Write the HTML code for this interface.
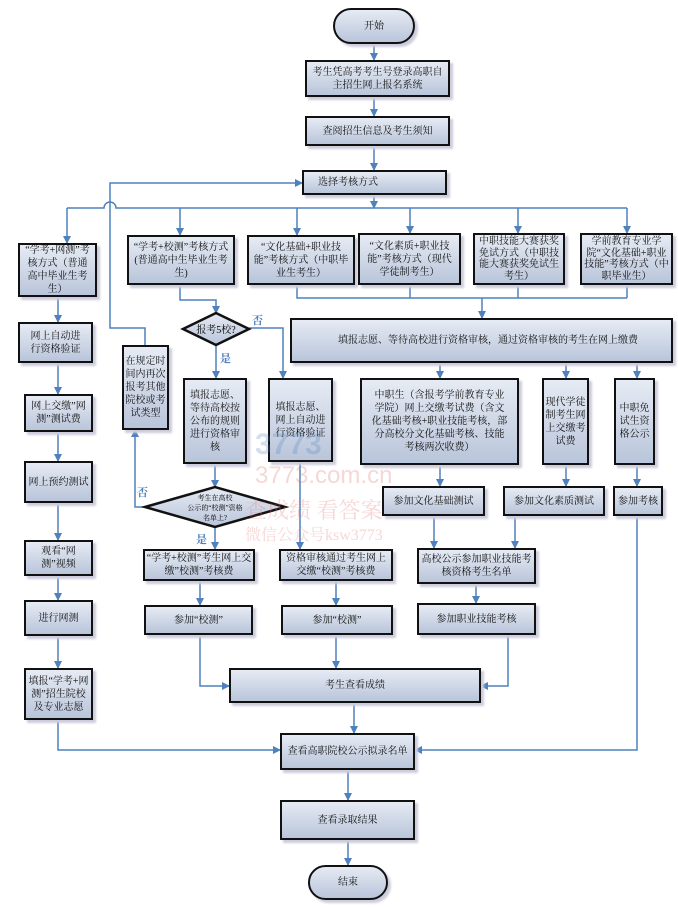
<!DOCTYPE html>
<html><head><meta charset="utf-8">
<style>
body{margin:0;background:#fff;}
#c{position:relative;width:678px;height:907px;overflow:hidden;font-family:"Liberation Serif","Noto Serif CJK SC",serif;}
.b{position:absolute;box-sizing:border-box;border:2.5px solid #111;background:linear-gradient(#e6ebf4,#b9c5da);box-shadow:3px 3px 2px #ccd;display:flex;align-items:center;justify-content:center;text-align:center;font-size:10px;line-height:13px;color:#111;padding:0 1px;}
.p{border-radius:18px;}
svg{position:absolute;left:0;top:0;}
.lb{position:absolute;font-size:11px;color:#4f81bd;font-weight:bold;}
.wm{position:absolute;color:rgba(230,120,120,0.3);font-size:22px;}
</style></head><body><div id="c">
<svg width="678" height="907">
<defs>
<marker id="a" markerWidth="8" markerHeight="8" refX="7" refY="4" orient="auto" markerUnits="userSpaceOnUse"><path d="M0,0 L8,4 L0,8z" fill="#4f81bd"/></marker>
<linearGradient id="g" x1="0" y1="0" x2="0" y2="1"><stop offset="0" stop-color="#e6ebf4"/><stop offset="1" stop-color="#b9c5da"/></linearGradient>
</defs>
<g fill="none" stroke="#4f81bd" stroke-width="1.5">
<path d="M374 44V60" marker-end="url(#a)"/>
<path d="M374 97V116" marker-end="url(#a)"/>
<path d="M374 146V170" marker-end="url(#a)"/>
<path d="M374 195V208" marker-end="url(#a)"/>
<path d="M67 208H104A6 6 0 0 1 116 208H627"/>
<path d="M67 208V243" marker-end="url(#a)"/>
<path d="M180 208V235" marker-end="url(#a)"/>
<path d="M297 208V235" marker-end="url(#a)"/>
<path d="M410 208V233" marker-end="url(#a)"/>
<path d="M518 208V233" marker-end="url(#a)"/>
<path d="M627 208V233" marker-end="url(#a)"/>
<path d="M145 345V328H110V183H302" marker-end="url(#a)"/>
<path d="M145 507H135V430" marker-end="url(#a)"/>
<path d="M58 297V322" marker-end="url(#a)"/>
<path d="M58 363V394" marker-end="url(#a)"/>
<path d="M58 432V461" marker-end="url(#a)"/>
<path d="M58 503V540" marker-end="url(#a)"/>
<path d="M58 576V600" marker-end="url(#a)"/>
<path d="M58 636V668" marker-end="url(#a)"/>
<path d="M58 720V750H280" marker-end="url(#a)"/>
<path d="M180 285V300H216V313" marker-end="url(#a)"/>
<path d="M249 328H283V378" marker-end="url(#a)"/>
<path d="M216 345V378" marker-end="url(#a)"/>
<path d="M297 285V298H627M410 285V298M518 285V298M627 285V298"/>
<path d="M482 298V318" marker-end="url(#a)"/>
<path d="M440 363V378" marker-end="url(#a)"/>
<path d="M566 363V378" marker-end="url(#a)"/>
<path d="M637 363V378" marker-end="url(#a)"/>
<path d="M440 465V486" marker-end="url(#a)"/>
<path d="M566 465V486" marker-end="url(#a)"/>
<path d="M637 465V486" marker-end="url(#a)"/>
<path d="M434 516V548" marker-end="url(#a)"/>
<path d="M515 516V548" marker-end="url(#a)"/>
<path d="M476 584V603" marker-end="url(#a)"/>
<path d="M508 635V686H481" marker-end="url(#a)"/>
<path d="M637 516V750H415" marker-end="url(#a)"/>
<path d="M215 464V487" marker-end="url(#a)"/>
<path d="M215 527V549" marker-end="url(#a)"/>
<path d="M200 581V605" marker-end="url(#a)"/>
<path d="M200 635V686H229" marker-end="url(#a)"/>
<path d="M300 462V549" marker-end="url(#a)"/>
<path d="M336 581V605" marker-end="url(#a)"/>
<path d="M336 635V668" marker-end="url(#a)"/>
<path d="M354 703V733" marker-end="url(#a)"/>
<path d="M348 770V800" marker-end="url(#a)"/>
<path d="M348 840V865" marker-end="url(#a)"/>
</g>
<polygon points="183,329 216,313 249,329 216,345" fill="url(#g)" stroke="#111" stroke-width="2.5"/>
<text x="216" y="333" font-size="10" text-anchor="middle" font-family="Liberation Serif,Noto Serif CJK SC,serif">报考5校?</text>
<polygon points="145,507 215,487 285,507 215,527" fill="url(#g)" stroke="#111" stroke-width="2.5"/>
<text x="215" y="500" font-size="7" text-anchor="middle" font-family="Liberation Serif,Noto Serif CJK SC,serif">考生在高校</text>
<text x="215" y="510" font-size="7" text-anchor="middle" font-family="Liberation Serif,Noto Serif CJK SC,serif">公示的“校测”资格</text>
<text x="215" y="520" font-size="7" text-anchor="middle" font-family="Liberation Serif,Noto Serif CJK SC,serif">名单上?</text>
</svg>
<div class="lb" style="left:252px;top:312px">否</div>
<div class="lb" style="left:220px;top:350px">是</div>
<div class="lb" style="left:137px;top:484px">否</div>
<div class="lb" style="left:196px;top:531px">是</div>

<div class="b p" style="left:333px;top:8px;width:82px;height:36px">开始</div>
<div class="b" style="left:305px;top:60px;width:145px;height:37px;padding:0 4px">考生凭高考考生号登录高职自主招生网上报名系统</div>
<div class="b" style="left:305px;top:116px;width:145px;height:30px">查阅招生信息及考生须知</div>
<div class="b" style="left:302px;top:170px;width:145px;height:25px;justify-content:flex-start;padding-left:14px">选择考核方式</div>

<div class="b" style="left:18px;top:243px;width:79px;height:54px;padding:0 4px">“学考+网测”考核方式（普通高中毕业生考生）</div>
<div class="b" style="left:18px;top:322px;width:75px;height:41px;padding:0 6px">网上自动进行资格验证</div>
<div class="b" style="left:24px;top:394px;width:69px;height:38px">网上交缴”网测”测试费</div>
<div class="b" style="left:24px;top:461px;width:69px;height:42px">网上预约测试</div>
<div class="b" style="left:24px;top:540px;width:69px;height:36px;padding:0 4px">观看“网测”视频</div>
<div class="b" style="left:24px;top:600px;width:69px;height:36px">进行网测</div>
<div class="b" style="left:24px;top:668px;width:69px;height:52px">填报“学考+网测”招生院校及专业志愿</div>

<div class="b" style="left:127px;top:235px;width:108px;height:50px">“学考+校测”考核方式(普通高中生毕业生考生)</div>
<div class="b" style="left:247px;top:235px;width:108px;height:50px;padding:0 4px">“文化基础+职业技能”考核方式（中职毕业生考生）</div>
<div class="b" style="left:358px;top:233px;width:103px;height:52px;padding:0 4px">“文化素质+职业技能”考核方式（现代学徒制考生）</div>
<div class="b" style="left:473px;top:233px;width:92px;height:52px;line-height:11.5px">中职技能大赛获奖免试方式（中职技能大赛获奖免试生考生）</div>
<div class="b" style="left:580px;top:233px;width:93px;height:52px;line-height:11.5px">学前教育专业学院“文化基础+职业技能”考核方式（中职毕业生）</div>

<div class="b" style="left:290px;top:318px;width:383px;height:45px;justify-content:flex-start;padding-left:46px">填报志愿、等待高校进行资格审核，通过资格审核的考生在网上缴费</div>

<div class="b" style="left:122px;top:345px;width:47px;height:85px;padding:0">在规定时间内再次报考其他院校或考试类型</div>
<div class="b" style="left:183px;top:378px;width:64px;height:86px">填报志愿、等待高校按公布的规则进行资格审核</div>
<div class="b" style="left:268px;top:378px;width:65px;height:84px">填报志愿、网上自动进行资格验证</div>
<div class="b" style="left:360px;top:378px;width:159px;height:87px;padding:0 8px">中职生（含报考学前教育专业学院）网上交缴考试费（含文化基础考核+职业技能考核，部分高校分文化基础考核、技能考核两次收费）</div>
<div class="b" style="left:542px;top:378px;width:47px;height:87px;padding:0">现代学徒制考生网上交缴考试费</div>
<div class="b" style="left:614px;top:378px;width:41px;height:87px;padding:0 3px">中职免试生资格公示</div>

<div class="b" style="left:382px;top:486px;width:103px;height:30px">参加文化基础测试</div>
<div class="b" style="left:503px;top:486px;width:102px;height:30px">参加文化素质测试</div>
<div class="b" style="left:613px;top:486px;width:50px;height:30px;padding:0">参加考核</div>
<div class="b" style="left:417px;top:548px;width:119px;height:36px">高校公示参加职业技能考核资格考生名单</div>
<div class="b" style="left:417px;top:603px;width:119px;height:32px">参加职业技能考核</div>

<div class="b" style="left:143px;top:549px;width:112px;height:32px">“学考+校测”考生网上交缴”校测”考核费</div>
<div class="b" style="left:144px;top:605px;width:109px;height:30px">参加“校测”</div>
<div class="b" style="left:279px;top:549px;width:114px;height:32px">资格审核通过考生网上交缴“校测”考核费</div>
<div class="b" style="left:281px;top:605px;width:112px;height:30px">参加“校测”</div>

<div class="b" style="left:229px;top:668px;width:252px;height:35px">考生查看成绩</div>
<div class="b" style="left:280px;top:733px;width:135px;height:37px">查看高职院校公示拟录名单</div>
<div class="b" style="left:280px;top:800px;width:135px;height:40px">查看录取结果</div>
<div class="b p" style="left:308px;top:865px;width:80px;height:35px">结束</div>

<div class="wm" style="left:255px;top:428px;font-size:30px;color:rgba(79,129,189,0.25);font-family:'Liberation Sans',sans-serif;font-weight:bold">3773</div>
<div class="wm" style="left:255px;top:462px;font-size:24px;font-family:'Liberation Sans',sans-serif">3773.com.cn</div>
<div class="wm" style="left:245px;top:494px">查成绩 看答案</div>
<div class="wm" style="left:245px;top:522px;font-size:16px">微信公众号ksw3773</div>
</div></body></html>
